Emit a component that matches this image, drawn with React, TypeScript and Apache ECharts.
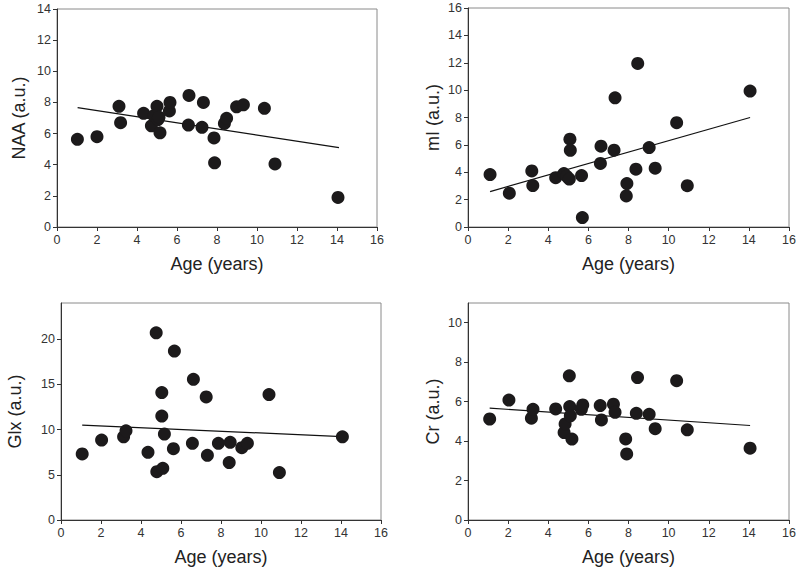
import React, { useEffect, useRef } from "react";
import * as echarts from "echarts";

const xTicks = [0, 2, 4, 6, 8, 10, 12, 14, 16];

const naaPoints = [
  [1.02, 5.63], [2.0, 5.8], [3.1, 7.75], [3.18, 6.7], [4.33, 7.3], [4.72, 6.5],
  [4.85, 7.15], [5.0, 7.75], [5.05, 6.9], [5.1, 7.05], [5.15, 6.05], [5.62, 7.45],
  [5.65, 8.0], [6.57, 6.55], [6.6, 8.45], [7.25, 6.4], [7.32, 8.0], [7.85, 5.72],
  [7.88, 4.12], [8.37, 6.65], [8.48, 6.98], [8.98, 7.72], [9.32, 7.85], [10.37, 7.62],
  [10.9, 4.05], [14.05, 1.9],
];
const naaFit = [[1.03, 7.67], [14.1, 5.1]];

const miPoints = [
  [1.1, 3.83], [2.06, 2.47], [3.18, 4.1], [3.23, 3.03], [4.37, 3.6], [4.78, 3.9],
  [4.92, 3.7], [5.05, 3.5], [5.08, 6.42], [5.1, 5.6], [5.66, 3.76], [5.7, 0.69],
  [6.6, 4.64], [6.63, 5.9], [7.28, 5.61], [7.33, 9.44], [7.89, 2.27], [7.92, 3.17],
  [8.37, 4.22], [8.46, 11.95], [9.03, 5.8], [9.33, 4.3], [10.4, 7.62], [10.93, 3.02],
  [14.06, 9.93],
];
const miFit = [[1.1, 2.59], [14.06, 8.0]];

const glxPoints = [
  [1.06, 7.3], [2.03, 8.84], [3.13, 9.2], [3.25, 9.87], [4.35, 7.49], [4.76, 20.7],
  [4.79, 5.35], [5.09, 5.72], [5.04, 14.1], [5.04, 11.49], [5.17, 9.5], [5.62, 7.89],
  [5.67, 18.68], [6.57, 8.48], [6.62, 15.56], [7.26, 13.61], [7.32, 7.16], [7.87, 8.48],
  [8.41, 6.35], [8.46, 8.59], [9.04, 8.0], [9.32, 8.48], [10.4, 13.87], [10.92, 5.24],
  [14.07, 9.2],
];
const glxFit = [[1.06, 10.5], [14.05, 9.22]];

const crPoints = [
  [1.08, 5.12], [2.04, 6.08], [3.16, 5.16], [3.24, 5.61], [4.37, 5.63], [4.79, 4.43],
  [4.84, 4.87], [5.05, 7.31], [5.07, 5.75], [5.1, 5.28], [5.18, 4.1], [5.65, 5.61],
  [5.72, 5.83], [6.59, 5.8], [6.65, 5.07], [7.25, 5.87], [7.33, 5.46], [7.86, 4.11],
  [7.91, 3.35], [8.39, 5.41], [8.45, 7.22], [9.03, 5.36], [9.33, 4.63], [10.4, 7.06],
  [10.93, 4.57], [14.06, 3.64],
];
const crFit = [[1.08, 5.67], [14.06, 4.79]];

const panels = [
  { name: "NAA (a.u.)", points: naaPoints, fit: naaFit, yMax: 14, yStep: 2, yTicks: [0, 2, 4, 6, 8, 10, 12, 14], gap: 29,
    grid: { left: 57, top: 9, width: 320, height: 218 } },
  { name: "mI (a.u.)", points: miPoints, fit: miFit, yMax: 16, yStep: 2, yTicks: [0, 2, 4, 6, 8, 10, 12, 14, 16], gap: 26,
    grid: { left: 468, top: 8, width: 321, height: 219 } },
  { name: "Glx (a.u.)", points: glxPoints, fit: glxFit, yMax: 24, yStep: 5, yTicks: [0, 5, 10, 15, 20], gap: 37,
    grid: { left: 61, top: 303, width: 320, height: 217 } },
  { name: "Cr (a.u.)", points: crPoints, fit: crFit, yMax: 11, yStep: 2, yTicks: [0, 2, 4, 6, 8, 10], gap: 26,
    grid: { left: 468, top: 303, width: 321, height: 217 } },
];

const FONT = "Liberation Sans, Arial, sans-serif";

export default function App() {
  const ref = useRef<HTMLDivElement>(null);
  useEffect(() => {
    if (!ref.current) return;
    const chart = echarts.init(ref.current, null, { renderer: "svg" });
    const grids: any[] = [];
    const xAxes: any[] = [];
    const yAxes: any[] = [];
    const series: any[] = [];
    panels.forEach((p, i) => {
      grids.push({ ...p.grid, show: true, borderColor: "#8a8a8a", borderWidth: 1, backgroundColor: "transparent" });
      xAxes.push({
        type: "value", gridIndex: i, min: 0, max: 16, interval: 2,
        name: "Age (years)", nameLocation: "middle", nameGap: 28,
        nameTextStyle: { fontSize: 18, color: "#222", fontFamily: FONT },
        axisLine: { show: true, onZero: false, lineStyle: { color: "#333", width: 1 } },
        axisTick: { show: true, length: 4, lineStyle: { color: "#333" }, customValues: xTicks },
        axisLabel: { fontSize: 12.5, color: "#333", fontFamily: FONT, margin: 6, customValues: xTicks },
        splitLine: { show: false },
      });
      yAxes.push({
        type: "value", gridIndex: i, min: 0, max: p.yMax, interval: p.yStep,
        name: p.name, nameLocation: "middle", nameGap: p.gap, nameRotate: 90,
        nameTextStyle: { fontSize: 18, color: "#222", fontFamily: FONT },
        axisLine: { show: true, onZero: false, lineStyle: { color: "#333", width: 1 } },
        axisTick: { show: true, length: 4, lineStyle: { color: "#333" }, customValues: p.yTicks },
        axisLabel: { fontSize: 12.5, color: "#333", fontFamily: FONT, margin: 6, customValues: p.yTicks },
        splitLine: { show: false },
      });
      series.push({
        type: "line", xAxisIndex: i, yAxisIndex: i, data: p.fit, symbol: "none",
        lineStyle: { color: "#111", width: 1.2 }, z: 2, silent: true,
      });
      series.push({
        type: "scatter", xAxisIndex: i, yAxisIndex: i, data: p.points, symbol: "circle",
        symbolSize: 13, itemStyle: { color: "#1c1a1b", opacity: 1 }, z: 3,
      });
    });
    chart.setOption({
      animation: false,
      backgroundColor: "#fff",
      textStyle: { fontFamily: FONT },
      grid: grids,
      xAxis: xAxes,
      yAxis: yAxes,
      series,
    });
    return () => chart.dispose();
  }, []);
  return (
    <div
      ref={ref}
      style={{ position: "absolute", left: 0, top: 0, width: 800, height: 574 }}
    />
  );
}
